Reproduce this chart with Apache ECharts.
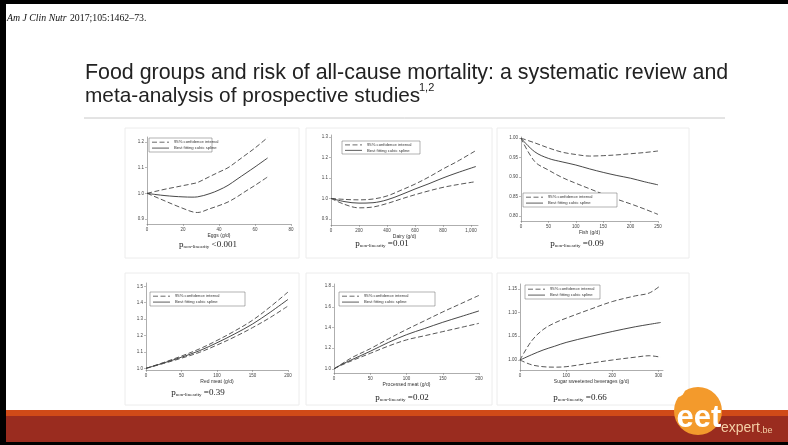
<!DOCTYPE html>
<html>
<head>
<meta charset="utf-8">
<script src="https://cdn.jsdelivr.net/npm/echarts@6/dist/echarts.min.js"></script>
<style>
html, body { margin: 0; padding: 0; background: #fff; }
#main { width: 788px; height: 445px; }
</style>
</head>
<body>
<div id="main"></div>
<script>
// data
let eggsX = [0, 5, 10, 15, 20, 25, 28, 35, 40, 45, 50, 55, 60, 67]
let eggsFit = [1.0, 0.995, 0.991, 0.988, 0.986, 0.985, 0.986, 0.999, 1.013, 1.031, 1.055, 1.079, 1.103, 1.138]
let eggsUp = [1.0, 1.008, 1.016, 1.023, 1.03, 1.037, 1.042, 1.066, 1.083, 1.1, 1.125, 1.151, 1.177, 1.218]
let eggsLo = [1.0, 0.985, 0.97, 0.955, 0.941, 0.928, 0.925, 0.94, 0.952, 0.966, 0.986, 1.009, 1.031, 1.064]

let dairyX = [0, 100, 200, 300, 400, 500, 600, 700, 800, 900, 1035]
let dairyFit = [1.0, 0.984, 0.977, 0.979, 0.993, 1.018, 1.046, 1.072, 1.1, 1.125, 1.156]
let dairyUp = [1.0, 0.995, 0.993, 0.997, 1.012, 1.04, 1.07, 1.105, 1.144, 1.18, 1.234]
let dairyLo = [1.0, 0.97, 0.954, 0.958, 0.975, 0.997, 1.018, 1.037, 1.054, 1.067, 1.082]

let fishX = [0, 25, 50, 75, 100, 125, 150, 175, 200, 225, 250]
let fishFit = [1.0, 0.965, 0.948, 0.939, 0.931, 0.921, 0.912, 0.904, 0.897, 0.888, 0.88]
let fishUp = [1.0, 0.988, 0.975, 0.964, 0.958, 0.954, 0.955, 0.957, 0.96, 0.963, 0.967]
let fishLo = [1.0, 0.94, 0.918, 0.899, 0.884, 0.87, 0.856, 0.843, 0.831, 0.818, 0.804]

let redX = [0, 25, 50, 75, 100, 125, 150, 175, 200]
let redFit = [1.0, 1.033, 1.068, 1.107, 1.156, 1.21, 1.27, 1.342, 1.42]
let redUp = [1.0, 1.036, 1.075, 1.118, 1.17, 1.228, 1.293, 1.375, 1.465]
let redLo = [1.0, 1.03, 1.062, 1.097, 1.142, 1.192, 1.248, 1.31, 1.38]

let procX = [0, 10, 25, 50, 75, 100, 125, 150, 175, 200]
let procFit = [1.0, 1.04, 1.09, 1.17, 1.255, 1.33, 1.39, 1.45, 1.505, 1.56]
let procUp = [1.0, 1.045, 1.11, 1.195, 1.29, 1.38, 1.465, 1.55, 1.63, 1.71]
let procLo = [1.0, 1.035, 1.08, 1.15, 1.22, 1.28, 1.32, 1.36, 1.4, 1.44]

let ssbX = [0, 25, 50, 75, 100, 150, 200, 250, 280, 305]
let ssbFit = [1.0, 1.011, 1.021, 1.029, 1.037, 1.049, 1.06, 1.07, 1.075, 1.079]
let ssbUp = [1.0, 1.04, 1.064, 1.078, 1.088, 1.106, 1.123, 1.135, 1.141, 1.157]
let ssbLo = [1.0, 0.99, 0.986, 0.985, 0.986, 0.993, 1.0, 1.006, 1.009, 1.006]

let xNames = ['Eggs (g/d)', 'Dairy (g/d)', 'Fish (g/d)', 'Red meat (g/d)', 'Processed meat (g/d)', 'Sugar sweetened beverages (g/d)']
let pValues = ['<0.001', '=0.01', '=0.09', '=0.39', '=0.02', '=0.66']
let yTicks = [
    [0.9, 1.0, 1.1, 1.2],
    [0.9, 1.0, 1.1, 1.2, 1.3],
    [0.8, 0.85, 0.9, 0.95, 1.0],
    [1.0, 1.1, 1.2, 1.3, 1.4, 1.5],
    [1.0, 1.2, 1.4, 1.6, 1.8],
    [1.0, 1.05, 1.1, 1.15]
]
let xStep = [20, 200, 50, 50, 50, 100]

let CI = '95% confidence interval'
let FIT = 'Best fitting cubic spline'

// layout of each panel: plot area [left, top, width, height], legend box [x, y, w, h], p-value centre
let panels = [
    { x: eggsX, fit: eggsFit, up: eggsUp, lo: eggsLo, xMax: 80, yMin: 0.88, yMax: 1.22, dec: 1,
      g: [147, 137, 144, 87], leg: [149, 138, 63, 14], p: [208, 244] },
    { x: dairyX, fit: dairyFit, up: dairyUp, lo: dairyLo, xMax: 1050, yMin: 0.87, yMax: 1.31, dec: 1,
      g: [331, 135, 147, 90], leg: [342, 141, 78, 13], p: [382, 243] },
    { x: fishX, fit: fishFit, up: fishUp, lo: fishLo, xMax: 250, yMin: 0.787, yMax: 1.003, dec: 2,
      g: [521, 137, 137, 84], leg: [523, 193, 94, 14], p: [577, 243] },
    { x: redX, fit: redFit, up: redUp, lo: redLo, xMax: 200, yMin: 0.99, yMax: 1.52, dec: 1,
      g: [146, 283, 142, 87], leg: [150, 292, 95, 14], p: [198, 392] },
    { x: procX, fit: procFit, up: procUp, lo: procLo, xMax: 200, yMin: 0.96, yMax: 1.82, dec: 1,
      g: [334, 284, 145, 89], leg: [339, 292, 96, 14], p: [402, 397] },
    { x: ssbX, fit: ssbFit, up: ssbUp, lo: ssbLo, xMax: 310, yMin: 0.979, yMax: 1.16, dec: 2,
      g: [520, 284, 143, 86], leg: [525, 285, 75, 14], p: [580, 397] }
]

function pairs(xs, ys) {
    return xs.map(function (v, i) { return [v, ys[i]] })
}

let dashed = [5, 2.5]
let grid = [], xAxis = [], yAxis = [], series = [], graphic = []

panels.forEach(function (pn, i) {
    grid.push({ left: pn.g[0], top: pn.g[1], width: pn.g[2], height: pn.g[3], containLabel: false })
    xAxis.push({
        gridIndex: i, type: 'value', min: 0, max: pn.xMax, interval: xStep[i],
        name: xNames[i], nameLocation: 'middle', nameGap: 8,
        nameTextStyle: { fontSize: 5, color: '#333', fontFamily: 'Liberation Sans' },
        axisLine: { lineStyle: { color: '#777', width: 0.6 } },
        axisTick: { length: 2, lineStyle: { color: '#777', width: 0.5 } },
        axisLabel: { fontSize: 4.5, color: '#444', margin: 3, fontFamily: 'Liberation Sans', showMaxLabel: pn.xMax % xStep[i] === 0 },
        splitLine: { show: false }
    })
    yAxis.push({
        gridIndex: i, type: 'value', min: pn.yMin, max: pn.yMax,
        axisLine: { show: true, lineStyle: { color: '#777', width: 0.6 } },
        axisTick: { show: true, length: 2, customValues: yTicks[i], lineStyle: { color: '#777', width: 0.5 } },
        axisLabel: {
            fontSize: 4.5, color: '#444', margin: 3, fontFamily: 'Liberation Sans',
            customValues: yTicks[i],
            formatter: function (v) { return v.toFixed(pn.dec) }
        },
        splitLine: { show: false }
    })
    let common = { type: 'line', xAxisIndex: i, yAxisIndex: i, showSymbol: false, symbol: 'none', smooth: 0.35, silent: true }
    series.push(Object.assign({}, common, { name: CI, data: pairs(pn.x, pn.up), lineStyle: { color: '#444', width: 0.9, type: dashed } }))
    series.push(Object.assign({}, common, { name: FIT, data: pairs(pn.x, pn.fit), lineStyle: { color: '#333', width: 0.9 } }))
    series.push(Object.assign({}, common, { name: CI, data: pairs(pn.x, pn.lo), lineStyle: { color: '#444', width: 0.9, type: dashed } }))

    // Stata style legend box
    let l = pn.leg
    let r1 = l[1] + l[3] * 0.3, r2 = l[1] + l[3] * 0.72
    graphic.push(
        { type: 'rect', z: 10, shape: { x: l[0], y: l[1], width: l[2], height: l[3] }, style: { fill: '#fff', stroke: '#666', lineWidth: 0.5 } },
        { type: 'line', z: 11, shape: { x1: l[0] + 3, y1: r1, x2: l[0] + 20, y2: r1 }, style: { stroke: '#444', lineWidth: 0.8, lineDash: dashed } },
        { type: 'line', z: 11, shape: { x1: l[0] + 3, y1: r2, x2: l[0] + 20, y2: r2 }, style: { stroke: '#333', lineWidth: 0.8 } },
        { type: 'text', z: 11, x: l[0] + 25, y: r1, style: { text: CI, font: '4.2px "Liberation Sans"', fill: '#333', textVerticalAlign: 'middle' } },
        { type: 'text', z: 11, x: l[0] + 25, y: r2, style: { text: FIT, font: '4.2px "Liberation Sans"', fill: '#333', textVerticalAlign: 'middle' } }
    )
    // p for non-linearity
    graphic.push({
        type: 'text', x: pn.p[0], y: pn.p[1], z: 10,
        style: {
            text: '{p|p}{s|non-linearity}{v| ' + pValues[i] + '}',
            textAlign: 'center', textVerticalAlign: 'middle',
            rich: {
                p: { fontSize: 9, fontFamily: 'Liberation Serif', fill: '#222', lineHeight: 11, verticalAlign: 'bottom' },
                s: { fontSize: 5, fontFamily: 'Liberation Serif', fill: '#222', lineHeight: 5, verticalAlign: 'bottom' },
                v: { fontSize: 9, fontFamily: 'Liberation Serif', fill: '#222', lineHeight: 11, verticalAlign: 'bottom' }
            }
        }
    })
})

// panel boxes
let boxes = [[125, 128, 174, 130], [306, 128, 186, 130], [497, 128, 192, 130],
             [125, 273, 174, 132], [306, 273, 186, 132], [497, 273, 192, 132]]
boxes.forEach(function (b) {
    graphic.push({ type: 'rect', z: -5, shape: { x: b[0], y: b[1], width: b[2], height: b[3] },
        style: { fill: '#fff', stroke: '#ececec', lineWidth: 1 } })
})

graphic.push(
    // frame and footer bands
    { type: 'rect', z: 1, shape: { x: 0, y: 0, width: 788, height: 4 }, style: { fill: '#000' } },
    { type: 'rect', z: 1, shape: { x: 0, y: 0, width: 6, height: 445 }, style: { fill: '#000' } },
    { type: 'rect', z: 1, shape: { x: 6, y: 410, width: 782, height: 6 }, style: { fill: '#d04a18' } },
    { type: 'rect', z: 1, shape: { x: 6, y: 416, width: 782, height: 26 }, style: { fill: '#9a2c1f' } },
    { type: 'rect', z: 1, shape: { x: 0, y: 442, width: 788, height: 3 }, style: { fill: '#000' } },
    // citation
    { type: 'text', x: 7, y: 18, z: 10, style: {
        text: '{i|Am J Clin Nutr} {n|2017;105:1462–73.}', textVerticalAlign: 'middle',
        rich: { i: { fontSize: 9.8, fontStyle: 'italic', fontFamily: 'Liberation Serif', fill: '#111' },
                n: { fontSize: 9.8, fontFamily: 'Liberation Serif', fill: '#111' } } } },
    // title
    { type: 'text', x: 85, y: 73, z: 10, style: { text: 'Food groups and risk of all-cause mortality: a systematic review and',
        font: '21.4px "Liberation Sans"', fill: '#222', textVerticalAlign: 'middle' } },
    { type: 'text', x: 85, y: 96, z: 10, style: { text: 'meta-analysis of prospective studies',
        font: '20.8px "Liberation Sans"', fill: '#222', textVerticalAlign: 'middle' } },
    { type: 'text', x: 419, y: 88, z: 10, style: { text: '1,2',
        font: '11px "Liberation Sans"', fill: '#222', textVerticalAlign: 'middle' } },
    { type: 'line', z: 10, shape: { x1: 84, y1: 118, x2: 725, y2: 118 }, style: { stroke: '#c8c8c8', lineWidth: 1 } },
    // logo
    { type: 'circle', z: 20, shape: { cx: 698, cy: 411, r: 24 }, style: { fill: '#f39a2c' } },
    { type: 'circle', z: 21, shape: { cx: 677, cy: 389, r: 8 }, style: { fill: '#fff' } },
    { type: 'text', x: 699, y: 418, z: 22, style: { text: 'eet', font: 'bold 31px "Liberation Sans"', fill: '#fff',
        textAlign: 'center', textVerticalAlign: 'middle' } },
    { type: 'text', x: 721, y: 428, z: 22, style: {
        text: '{a|expert}{b|.be}', textVerticalAlign: 'middle',
        rich: { a: { fontSize: 14, fontFamily: 'Liberation Sans', fill: '#f4cfa6' },
                b: { fontSize: 9, fontFamily: 'Liberation Sans', fill: '#f4cfa6', verticalAlign: 'bottom' } } } }
)

var chartDom = document.getElementById('main')
var myChart = echarts.init(chartDom)
var option = {
    backgroundColor: '#fff',
    animation: false,
    textStyle: { fontFamily: 'Liberation Sans' },
    grid: grid,
    xAxis: xAxis,
    yAxis: yAxis,
    series: series,
    graphic: graphic
}
option && myChart.setOption(option)
</script>
</body>
</html>
